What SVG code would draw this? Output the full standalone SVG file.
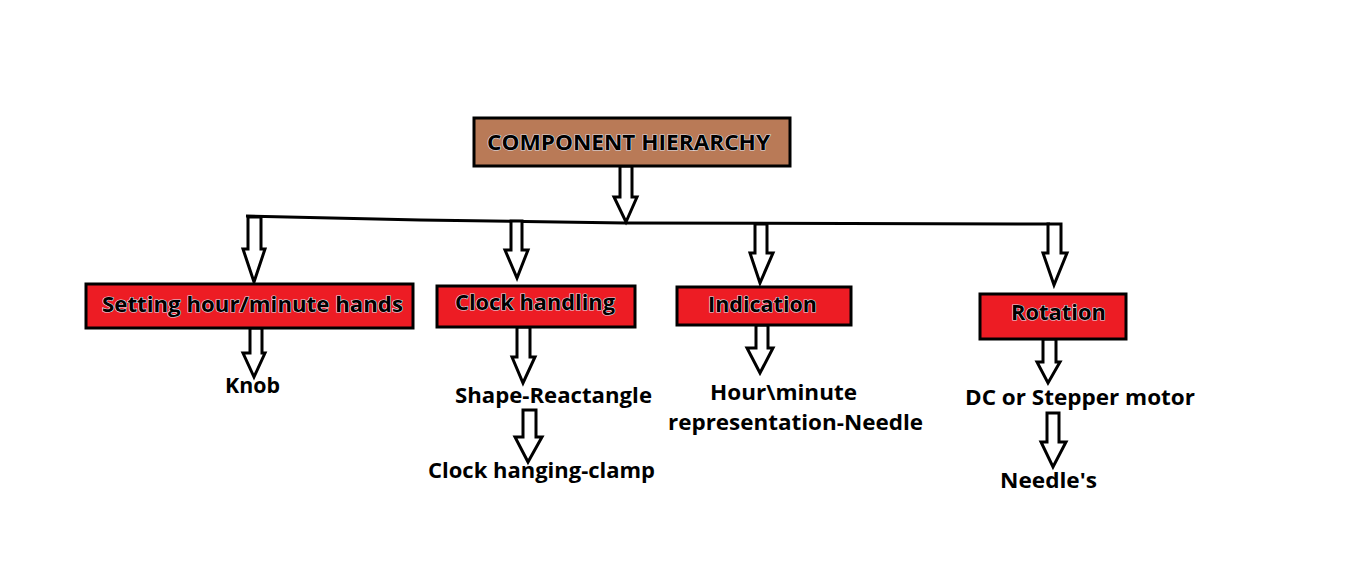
<svg xmlns="http://www.w3.org/2000/svg" width="1349" height="566" viewBox="0 0 1349 566">
<style>
.box{stroke:#000;stroke-width:3}
.red{fill:#ED1C24}
.brown{fill:#B97A57}
.bt{font-family:"Open Sans","Liberation Sans",sans-serif;font-weight:bold;font-size:21px;fill:#000;stroke:#dde3f0;stroke-width:1.2;paint-order:stroke}
.lt{font-family:"Open Sans","Liberation Sans",sans-serif;font-weight:bold;font-size:21px;fill:#000}
.arr{fill:#fff;stroke:#000;stroke-width:3;stroke-linejoin:miter}
.ln{fill:none;stroke:#000;stroke-width:3}
</style>
<rect width="1349" height="566" fill="#fff"/>
<g id="connectors">
<polyline class="ln" points="246,216 420,220 625,223 1050,224"/>
<polygon class="arr" points="620,166 632,166 632,197 637,197 626,222 614,197 620,197"/>
<polygon class="arr" points="248,217 261,217 261,249 265,249 254,282 243,249 248,249"/>
<polygon class="arr" points="250,328 262,328 262,353 265,353 254,377 243,353 250,353"/>
<polygon class="arr" points="511,221 522,221 522,250 528,250 517,278 505,250 511,250"/>
<polygon class="arr" points="517,327 530,327 530,357 535,357 523,383 512,357 517,357"/>
<polygon class="arr" points="523,410 536,410 536,437 542,437 528,462 515,437 523,437"/>
<polygon class="arr" points="755,224 767,224 767,253 773,253 760,283 750,253 755,253"/>
<polygon class="arr" points="756,325 768,325 768,348 773,348 760,373 747,348 756,348"/>
<polygon class="arr" points="1048,224 1061,224 1061,253 1067,253 1054,285 1043,253 1048,253"/>
<polygon class="arr" points="1043,339 1056,339 1056,362 1060,362 1048,383 1037,362 1043,362"/>
<polygon class="arr" points="1047,413 1059,413 1059,442 1066,442 1053,467 1041,442 1047,442"/>
</g>
<g id="root">
<rect class="box brown" x="474" y="118" width="316" height="48"/>
<text class="bt" x="487" y="150" textLength="283" lengthAdjust="spacingAndGlyphs">COMPONENT HIERARCHY</text>
</g>
<g id="setting">
<rect class="box red" x="86" y="284" width="327" height="44"/>
<text class="bt" x="102" y="312" textLength="301" lengthAdjust="spacingAndGlyphs">Setting hour/minute hands</text>
</g>
<g id="knob"><text class="lt" x="225" y="393" textLength="55" lengthAdjust="spacingAndGlyphs">Knob</text></g>
<g id="clock-handling">
<rect class="box red" x="437" y="286" width="198" height="41"/>
<text class="bt" x="455" y="310" textLength="160" lengthAdjust="spacingAndGlyphs">Clock handling</text>
</g>
<g id="shape"><text class="lt" x="455" y="403" textLength="197" lengthAdjust="spacingAndGlyphs">Shape-Reactangle</text></g>
<g id="clamp"><text class="lt" x="428" y="478" textLength="227" lengthAdjust="spacingAndGlyphs">Clock hanging-clamp</text></g>
<g id="indication">
<rect class="box red" x="677" y="287" width="174" height="38"/>
<text class="bt" x="708" y="312" textLength="109" lengthAdjust="spacingAndGlyphs">Indication</text>
</g>
<g id="needle-rep">
<text class="lt" x="710" y="400" textLength="147" lengthAdjust="spacingAndGlyphs">Hour\minute</text>
<text class="lt" x="668" y="430" textLength="255" lengthAdjust="spacingAndGlyphs">representation-Needle</text>
</g>
<g id="rotation">
<rect class="box red" x="980" y="294" width="146" height="45"/>
<text class="bt" x="1011" y="320" textLength="95" lengthAdjust="spacingAndGlyphs">Rotation</text>
</g>
<g id="motor"><text class="lt" x="965" y="405" textLength="230" lengthAdjust="spacingAndGlyphs">DC or Stepper motor</text></g>
<g id="needles"><text class="lt" x="1000" y="488" textLength="97" lengthAdjust="spacingAndGlyphs">Needle's</text></g>
</svg>
